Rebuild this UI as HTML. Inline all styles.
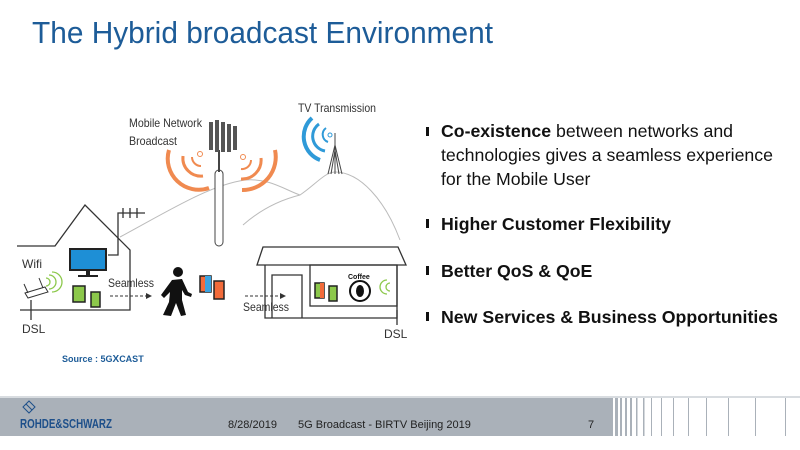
<!DOCTYPE html>
<html><head><meta charset="utf-8"><style>
html,body{margin:0;padding:0;width:800px;height:450px;overflow:hidden;background:#fff}
svg{display:block}
</style></head><body>
<svg width="800" height="450" viewBox="0 0 800 450" xmlns="http://www.w3.org/2000/svg" font-family="Liberation Sans, sans-serif">
<text x="32" y="43" font-size="31" fill="#1d5c98" textLength="461" lengthAdjust="spacingAndGlyphs">The Hybrid broadcast Environment</text>

<!-- hills -->
<path d="M120,237 C170,210 210,185 245,180 C270,178 285,190 300,195 C315,185 325,172 335,172 C360,172 385,200 400,240" fill="none" stroke="#bbb" stroke-width="1"/>
<path d="M243,225 C260,210 280,200 300,195" fill="none" stroke="#bbb" stroke-width="1"/>

<!-- mobile tower -->
<rect x="215" y="170" width="8" height="76" rx="4" fill="#fff" stroke="#444" stroke-width="1"/>
<line x1="219" y1="150" x2="219" y2="172" stroke="#444" stroke-width="2"/>
<g fill="#555">
<rect x="209" y="122" width="4" height="28"/><rect x="215" y="120" width="4" height="32"/><rect x="221" y="122" width="4" height="30"/><rect x="227" y="124" width="4" height="28"/><rect x="233" y="126" width="4" height="24"/>
</g>
<text x="129" y="127" font-size="12" fill="#333" textLength="73" lengthAdjust="spacingAndGlyphs">Mobile Network</text>
<text x="129" y="145" font-size="12" fill="#333" textLength="48" lengthAdjust="spacingAndGlyphs">Broadcast</text>
<g fill="none" stroke="#f08a50">
<path d="M192,157 A9,9 0 0 0 201,166" stroke-width="2"/>
<path d="M183,156 A18,18 0 0 0 203,176" stroke-width="3"/>
<path d="M169,150 A31,31 0 0 0 209,188" stroke-width="4"/>
<path d="M251,160 A9,9 0 0 1 241,169" stroke-width="2"/>
<path d="M261,158 A19,19 0 0 1 241,179" stroke-width="3"/>
<path d="M275,150 A33,33 0 0 1 242,190" stroke-width="4"/>
</g>
<circle cx="200" cy="154" r="2.5" fill="none" stroke="#f08a50"/>
<circle cx="243" cy="157" r="2.5" fill="none" stroke="#f08a50"/>

<!-- TV tower -->
<text x="298" y="112" font-size="12" fill="#333" textLength="78" lengthAdjust="spacingAndGlyphs">TV Transmission</text>
<g stroke="#444" stroke-width="1">
<line x1="335" y1="133" x2="335" y2="174"/><line x1="335" y1="145" x2="328" y2="174"/><line x1="335" y1="145" x2="342" y2="174"/><line x1="335" y1="150" x2="331" y2="174"/><line x1="335" y1="150" x2="339" y2="174"/>
</g>
<g fill="none" stroke="#2f9ad8">
<path d="M326,128 A8,8 0 0 0 328,142" stroke-width="2"/>
<path d="M319,124 A15,15 0 0 0 325,151" stroke-width="3"/>
<path d="M312,118 A25,25 0 0 0 320,160" stroke-width="4"/>
</g>
<circle cx="330" cy="135" r="2" fill="none" stroke="#2f9ad8"/>

<!-- left house -->
<g fill="none" stroke="#333" stroke-width="1.3">
<polyline points="17,246 55,246 85,205 130,250 130,310 20,310"/>
<polyline points="108,255 118,255 118,213 145,213"/>
<line x1="123" y1="208" x2="123" y2="218"/><line x1="130" y1="208" x2="130" y2="218"/><line x1="137" y1="208" x2="137" y2="218"/>
<line x1="31" y1="300" x2="31" y2="320"/>
</g>
<rect x="70" y="249" width="36" height="21" fill="#1e8fd6" stroke="#222" stroke-width="2"/>
<rect x="86" y="270" width="4" height="5" fill="#222"/><rect x="78" y="275" width="20" height="2" fill="#222"/>
<rect x="73" y="286" width="12" height="16" fill="#8cc84b" stroke="#222" stroke-width="1.5"/>
<rect x="91" y="292" width="9" height="15" fill="#8cc84b" stroke="#222" stroke-width="1.5"/>
<text x="22" y="268" font-size="12" fill="#333">Wifi</text>
<path d="M25,293 L45,287 L48,292 L28,298 Z" fill="#fff" stroke="#333"/>
<line x1="28" y1="293" x2="24" y2="284" stroke="#333"/><line x1="43" y1="288" x2="39" y2="278" stroke="#333"/>
<g fill="none" stroke="#8cc84b" stroke-width="1.3"><path d="M46,278 A4,4 0 0 1 46,286"/><path d="M49,275 A7,7 0 0 1 49,289"/><path d="M52,272 A10,10 0 0 1 52,292"/></g>
<text x="22" y="333" font-size="12" fill="#333">DSL</text>
<text x="108" y="287" font-size="12" fill="#333" textLength="46" lengthAdjust="spacingAndGlyphs">Seamless</text>
<line x1="110" y1="296" x2="146" y2="296" stroke="#333" stroke-dasharray="3,2"/>
<path d="M146,293 L152,296 L146,299 Z" fill="#333"/>

<!-- person -->
<g fill="#111">
<circle cx="178" cy="272" r="5"/>
<path d="M172,280 L182,279 L188,292 L192,294 L191,297 L185,295 L182,290 L182,300 L186,315 L181,316 L176,303 L171,316 L163,315 L169,302 L170,292 L164,298 L161,295 Z"/>
</g>
<rect x="200" y="276" width="11" height="16" fill="#f26b3a" stroke="#222" stroke-width="1.5"/>
<rect x="205" y="276" width="6" height="16" fill="#3aa3e0"/>
<rect x="214" y="281" width="10" height="18" fill="#f26b3a" stroke="#222" stroke-width="1.5"/>

<!-- cafe -->
<g fill="none" stroke="#333" stroke-width="1.3">
<path d="M263,247 L398,247 L406,265 L257,265 Z" fill="#fff"/>
<polyline points="265,265 265,318 397,318 397,265"/>
<polyline points="272,318 272,275 302,275 302,318"/>
<rect x="310" y="265" width="87" height="41"/>
<line x1="397" y1="310" x2="397" y2="325"/>
</g>
<rect x="315" y="283" width="9" height="15" fill="#8cc84b" stroke="#222" stroke-width="1.5"/>
<rect x="320" y="283" width="4" height="15" fill="#f26b3a"/>
<rect x="329" y="286" width="8" height="15" fill="#8cc84b" stroke="#222" stroke-width="1.5"/>
<circle cx="360" cy="291" r="10" fill="#fff" stroke="#111" stroke-width="2"/>
<ellipse cx="360" cy="291" rx="4" ry="6" fill="#111"/>
<text x="348" y="279" font-size="7" font-weight="bold" fill="#111">Coffee</text>
<g fill="none" stroke="#8cc84b" stroke-width="1.3"><path d="M390,283 A4,4 0 0 0 390,291"/><path d="M387,280 A7,7 0 0 0 387,294"/></g>
<text x="243" y="311" font-size="12" fill="#333" textLength="46" lengthAdjust="spacingAndGlyphs">Seamless</text>
<line x1="245" y1="296" x2="280" y2="296" stroke="#333" stroke-dasharray="3,2"/>
<path d="M280,293 L286,296 L280,299 Z" fill="#333"/>
<text x="384" y="338" font-size="12" fill="#333">DSL</text>

<text x="62" y="362" font-size="9" font-weight="bold" fill="#1d5c98">Source : 5G<tspan font-size="10">X</tspan>CAST</text>

<!-- bullets -->
<g font-size="17.7" fill="#111">
<rect x="426" y="127" width="3" height="9"/>
<text x="441" y="137" textLength="292" lengthAdjust="spacingAndGlyphs"><tspan font-weight="bold">Co-existence</tspan> between networks and</text>
<text x="441" y="161" textLength="332" lengthAdjust="spacingAndGlyphs">technologies gives a seamless experience</text>
<text x="441" y="185">for the Mobile User</text>
<rect x="426" y="219" width="3" height="9"/>
<text x="441" y="230" font-weight="bold">Higher Customer Flexibility</text>
<rect x="426" y="266" width="3" height="9"/>
<text x="441" y="277" font-weight="bold">Better QoS &amp; QoE</text>
<rect x="426" y="312" width="3" height="9"/>
<text x="441" y="323" font-weight="bold" textLength="337" lengthAdjust="spacingAndGlyphs">New Services &amp; Business Opportunities</text>
</g>

<!-- footer -->
<rect x="0" y="398" width="800" height="38" fill="#aab1b9"/>
<rect x="0" y="396" width="800" height="2" fill="#d8dce0"/>
<rect x="610" y="398" width="190" height="38" fill="#fff"/>
<g fill="#aab1b9">
<rect x="610" y="398" width="3" height="38"/><rect x="615" y="398" width="3" height="38"/><rect x="620" y="398" width="2" height="38"/><rect x="625" y="398" width="2" height="38"/><rect x="630" y="398" width="2" height="38"/><rect x="636" y="398" width="1.5" height="38"/><rect x="643" y="398" width="1.5" height="38"/><rect x="651" y="398" width="1" height="38"/><rect x="661" y="398" width="1" height="38"/><rect x="673" y="398" width="1" height="38"/><rect x="688" y="398" width="1" height="38"/><rect x="706" y="398" width="1" height="38"/><rect x="728" y="398" width="1" height="38"/><rect x="755" y="398" width="1" height="38"/><rect x="785" y="398" width="1" height="38"/>
</g>
<g fill="none" stroke="#1d4f8a" stroke-width="1"><path d="M29,401 L35,407 L29,413 L23,407 Z"/><path d="M26,404 L32,410"/></g>
<text x="20" y="428" font-size="13" font-weight="bold" fill="#1d4f8a" textLength="92" lengthAdjust="spacingAndGlyphs">ROHDE&amp;SCHWARZ</text>
<text x="228" y="428" font-size="11" fill="#222">8/28/2019</text>
<text x="298" y="428" font-size="11" fill="#222">5G Broadcast - BIRTV Beijing 2019</text>
<text x="588" y="428" font-size="11" fill="#222">7</text>
</svg>
</body></html>
